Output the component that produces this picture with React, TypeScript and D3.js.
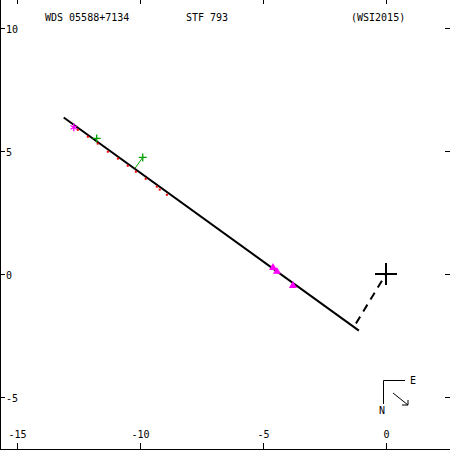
import React, { useEffect, useRef } from 'react';
import * as d3 from 'd3';

// star / orbit info
const titleLeft = 'WDS 05588+7134';
const titleMid = 'STF 793';
const titleRight = '(WSI2015)';

const xTicks = [-15, -10, -5, 0];
const yTicks = [10, 5, 0, -5];

// orbit (nearly edge-on, drawn as a line) in arcsec
const orbitX = [-13.09, -1.10];
const orbitY = [6.36, -2.30];

// line of nodes (dashed) to primary
const nodeX = [-1.22, 0];
const nodeY = [-2.01, 0];

// red micrometer measures
const redX = [-12.52, -12.11, -11.71, -11.30, -10.89, -10.49, -10.16, -9.76, -9.31, -9.19, -8.90];
const redY = [5.86, 5.58, 5.30, 4.97, 4.69, 4.40, 4.16, 3.87, 3.55, 3.43, 3.22];

// green measures (with residual lines)
const greenX = [-11.75, -9.88];
const greenY = [5.51, 4.74];
const greenFromX = [-11.75, -10.20];
const greenFromY = [5.51, 4.29];

// magenta first measure (asterisk)
const firstX = [-12.68];
const firstY = [5.96];

// magenta speckle measures (triangles)
const triX = [-4.59, -4.43, -3.78];
const triY = [0.26, 0.10, -0.47];

const W = 450;
const H = 450;
const FONT = '"DejaVu Sans Mono", monospace';

export default function App() {
  const ref = useRef<SVGSVGElement>(null);

  useEffect(() => {
    const svg = d3.select(ref.current);
    svg.selectAll('*').remove();

    const x = d3.scaleLinear().domain([-15, 0]).range([16.7, 386]);
    const y = d3.scaleLinear().domain([-5, 10]).range([397, 28]);

    svg.append('rect').attr('width', W).attr('height', H).attr('fill', 'white');

    // frame
    svg.append('line').attr('x1', 0.5).attr('x2', 0.5).attr('y1', 0).attr('y2', H).attr('stroke', 'black');
    svg.append('line').attr('x1', 0).attr('x2', W).attr('y1', 449.5).attr('y2', 449.5).attr('stroke', 'black');

    // x ticks (top & bottom)
    xTicks.forEach(t => {
      const px = Math.round(x(t)) + 0.5;
      svg.append('line').attr('x1', px).attr('x2', px).attr('y1', 0).attr('y2', 4).attr('stroke', 'black');
      svg.append('line').attr('x1', px).attr('x2', px).attr('y1', 443).attr('y2', 450).attr('stroke', 'black');
      svg.append('text').attr('x', px).attr('y', 438).attr('text-anchor', 'middle')
        .attr('font-family', FONT).attr('font-size', 10).text(String(t));
    });

    // y ticks (left & right)
    yTicks.forEach(t => {
      const py = Math.round(y(t)) + 0.5;
      svg.append('line').attr('x1', 0).attr('x2', 5).attr('y1', py).attr('y2', py).attr('stroke', 'black');
      svg.append('line').attr('x1', 445).attr('x2', 450).attr('y1', py).attr('y2', py).attr('stroke', 'black');
      svg.append('text').attr('x', 6).attr('y', py + 4)
        .attr('font-family', FONT).attr('font-size', 10).text(String(t));
    });

    // titles
    const title = (tx: number, s: string) =>
      svg.append('text').attr('x', tx).attr('y', 21).attr('font-family', FONT).attr('font-size', 10).text(s);
    title(45, titleLeft);
    title(186, titleMid);
    title(351, titleRight);

    const line = d3.line<[number, number]>().x(d => x(d[0])).y(d => y(d[1]));

    // residual lines for green points
    greenX.forEach((gx, i) => {
      svg.append('path')
        .attr('d', line([[greenFromX[i], greenFromY[i]], [gx, greenY[i]]]))
        .attr('stroke', '#00a000').attr('fill', 'none');
    });

    // orbit
    svg.append('path')
      .attr('d', line(orbitX.map((v, i) => [v, orbitY[i]] as [number, number])))
      .attr('stroke', 'black').attr('stroke-width', 2).attr('fill', 'none');

    // red points
    redX.forEach((rx, i) => {
      svg.append('rect').attr('x', x(rx) - 1).attr('y', y(redY[i]) - 1)
        .attr('width', 2).attr('height', 2).attr('fill', 'red');
    });

    // dashed node line
    svg.append('path')
      .attr('d', line(nodeX.map((v, i) => [v, nodeY[i]] as [number, number])))
      .attr('stroke', 'black').attr('stroke-width', 2).attr('stroke-dasharray', '8,6').attr('fill', 'none');

    // primary
    const cx = x(0);
    const cy = y(0);
    svg.append('line').attr('x1', cx - 11).attr('x2', cx + 11).attr('y1', cy).attr('y2', cy).attr('stroke', 'black').attr('stroke-width', 2);
    svg.append('line').attr('x1', cx).attr('x2', cx).attr('y1', cy - 11).attr('y2', cy + 11).attr('stroke', 'black').attr('stroke-width', 2);

    // green plus marks
    greenX.forEach((gx, i) => {
      const px = x(gx);
      const py = y(greenY[i]);
      svg.append('path').attr('d', `M${px - 4},${py}H${px + 4}M${px},${py - 4}V${py + 4}`)
        .attr('stroke', '#00a000').attr('stroke-width', 1.3).attr('fill', 'none');
    });

    // magenta asterisk
    firstX.forEach((fx, i) => {
      svg.append('path')
        .attr('d', d3.symbol(d3.symbolAsterisk, 40)())
        .attr('transform', `translate(${x(fx)},${y(firstY[i])})`)
        .attr('stroke', 'magenta').attr('stroke-width', 1.3).attr('fill', 'none');
    });

    // magenta triangles
    triX.forEach((tx, i) => {
      svg.append('path')
        .attr('d', d3.symbol(d3.symbolTriangle, 28)())
        .attr('transform', `translate(${x(tx)},${y(triY[i])})`)
        .attr('fill', 'magenta');
    });

    // compass
    svg.append('path').attr('d', 'M383.5,404V380.5H405').attr('stroke', 'black').attr('fill', 'none');
    svg.append('text').attr('x', 410).attr('y', 384).attr('font-family', FONT).attr('font-size', 10).text('E');
    svg.append('text').attr('x', 379).attr('y', 414).attr('font-family', FONT).attr('font-size', 10).text('N');
    svg.append('path').attr('d', 'M393,393L408,405M402,405H408V400').attr('stroke', 'black').attr('fill', 'none');
  }, []);

  return (
    <svg ref={ref} width={W} height={H} style={{ position: 'absolute', left: 0, top: 0 }} />
  );
}
